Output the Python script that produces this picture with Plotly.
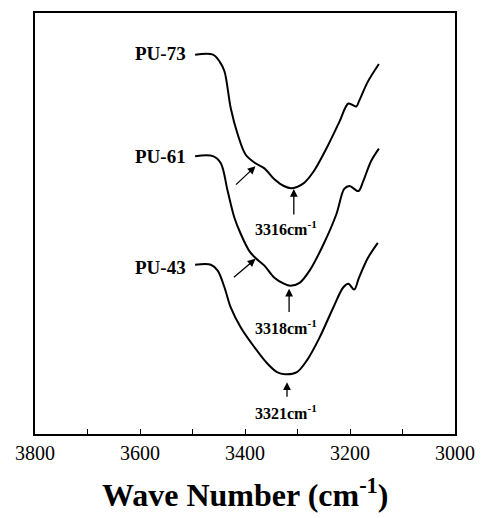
import plotly.graph_objects as go

# Wavenumbers (cm^-1) and relative transmittance (arbitrary units)
pu73_x = [3495, 3461, 3448, 3439, 3427, 3414, 3399, 3380, 3363, 3344, 3326, 3311, 3288, 3269, 3245, 3220, 3203, 3188, 3183, 3166, 3145]
pu73_y = [90.1, 90.1, 88.4, 86.1, 77.3, 71.2, 66.4, 64.3, 63.1, 60.5, 58.9, 58.4, 59.6, 62.4, 67.8, 74.2, 78.5, 77.8, 79.0, 83.7, 87.9]

pu61_x = [3495, 3461, 3446, 3433, 3420, 3408, 3392, 3380, 3363, 3344, 3326, 3314, 3296, 3277, 3250, 3226, 3211, 3201, 3184, 3175, 3160, 3145]
pu61_y = [66.0, 66.0, 64.3, 57.7, 51.3, 47.5, 43.5, 41.8, 40.0, 37.1, 35.7, 35.2, 35.9, 38.8, 45.2, 52.2, 58.2, 58.9, 57.7, 60.0, 64.8, 67.8]

pu43_x = [3495, 3465, 3452, 3439, 3427, 3408, 3382, 3358, 3339, 3324, 3301, 3282, 3258, 3232, 3213, 3203, 3192, 3183, 3166, 3147]
pu43_y = [40.2, 40.2, 38.8, 34.8, 30.0, 25.3, 20.6, 16.8, 14.7, 14.2, 14.7, 17.5, 22.9, 30.0, 34.8, 35.7, 34.3, 37.1, 41.8, 45.4]

series_names = ["PU-73", "PU-61", "PU-43"]
label_y = [90.3, 66.0, 39.5]
label_x = 3508

peak_labels = ["3316", "3318", "3321"]
peak_x = [3307, 3316, 3320]
peak_head_y = [58.2, 34.5, 12.3]
peak_tail_y = [51.8, 28.6, 8.5]
peak_text_x = 3322
peak_text_y = [48.9, 25.3, 5.2]

shoulder_head = [(3380, 63.6), (3380, 41.6)]
shoulder_tail = [(3420, 58.9), (3424, 36.9)]

x_ticks = [3800, 3600, 3400, 3200, 3000]

serif = "Liberation Serif"

fig = go.Figure()
for xs, ys in [(pu73_x, pu73_y), (pu61_x, pu61_y), (pu43_x, pu43_y)]:
    fig.add_trace(go.Scatter(x=xs, y=ys, mode="lines",
                             line=dict(color="black", width=2, shape="spline", smoothing=0.9),
                             showlegend=False, hoverinfo="skip"))

annotations = []
for name, ly in zip(series_names, label_y):
    annotations.append(dict(x=label_x, y=ly, xref="x", yref="y", text="<b>%s</b>" % name,
                            showarrow=False, xanchor="right", yanchor="middle",
                            font=dict(family=serif, size=19, color="black")))
for px_, hy, ty, lbl, tyy in zip(peak_x, peak_head_y, peak_tail_y, peak_labels, peak_text_y):
    annotations.append(dict(x=px_, y=hy, ax=px_, ay=ty, xref="x", yref="y", axref="x", ayref="y",
                            text="", showarrow=True, arrowhead=2, arrowsize=1.2, arrowwidth=1.3,
                            arrowcolor="black"))
    annotations.append(dict(x=peak_text_x, y=tyy, xref="x", yref="y",
                            text="<b>%scm<sup>-1</sup></b>" % lbl, showarrow=False,
                            xanchor="center", yanchor="middle",
                            font=dict(family=serif, size=16, color="black")))
for (hx, hy), (tx, ty) in zip(shoulder_head, shoulder_tail):
    annotations.append(dict(x=hx, y=hy, ax=tx, ay=ty, xref="x", yref="y", axref="x", ayref="y",
                            text="", showarrow=True, arrowhead=2, arrowsize=1.2, arrowwidth=1.3,
                            arrowcolor="black"))
annotations.append(dict(x=0.5, y=-0.14, xref="paper", yref="paper",
                        text="<b>Wave Number (cm<sup>-1</sup>)</b>", showarrow=False,
                        xanchor="center", yanchor="middle",
                        font=dict(family=serif, size=32, color="black")))

fig.update_layout(
    width=486, height=518,
    margin=dict(l=35, r=26, t=11, b=84),
    paper_bgcolor="white", plot_bgcolor="white",
    annotations=annotations,
    xaxis=dict(range=[3800, 3000], tickvals=x_ticks, ticktext=[str(v) for v in x_ticks],
               ticks="inside", ticklen=5, tickwidth=1.2, tickcolor="black",
               minor=dict(dtick=100, tick0=3000, ticks="inside", ticklen=5, tickwidth=1.2, tickcolor="black"),
               showline=True, linecolor="black", linewidth=2, mirror=True,
               showgrid=False, zeroline=False,
               tickfont=dict(family=serif, size=20, color="black")),
    yaxis=dict(range=[0, 100], showticklabels=False, ticks="",
               showline=True, linecolor="black", linewidth=2, mirror=True,
               showgrid=False, zeroline=False),
)

fig.write_html("out.html")
